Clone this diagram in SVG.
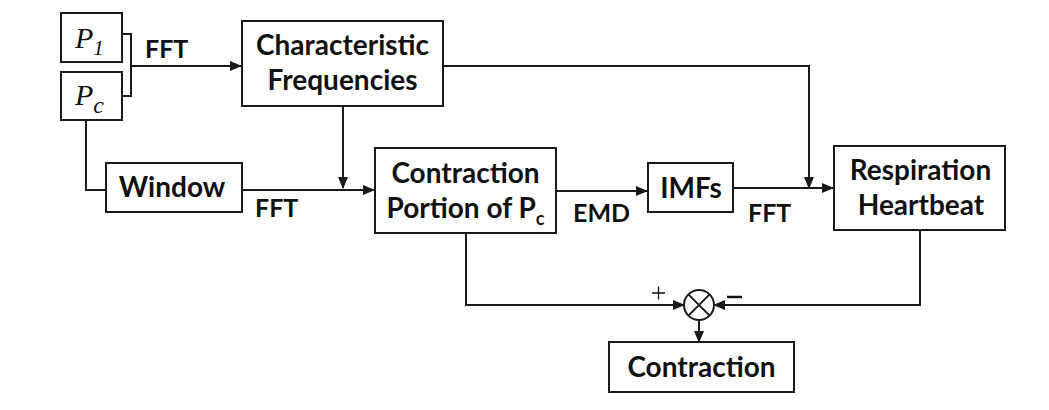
<svg xmlns="http://www.w3.org/2000/svg" width="1049" height="410" viewBox="0 0 1049 410">
<style>
.box{fill:#fff;stroke:#1a1a1a;stroke-width:2}
.t{font-family:Lato,"Open Sans",sans-serif;font-weight:bold;font-size:28px;fill:#111;text-anchor:middle}
.lbl{font-family:Lato,"Open Sans",sans-serif;font-weight:bold;font-size:25px;fill:#111}
.p{font-family:"Liberation Serif","DejaVu Serif",serif;font-style:italic;fill:#111}
.c{fill:none;stroke:#1a1a1a;stroke-width:2}
.sm{font-family:"DejaVu Sans","Liberation Sans",sans-serif;font-weight:200;font-size:24px;fill:#111}
</style>
<defs>
<marker id="ah" markerUnits="userSpaceOnUse" markerWidth="12" markerHeight="10" refX="11" refY="5" orient="auto">
<path d="M0,0 L12,5 L0,10 Z" fill="#1a1a1a"/>
</marker>
</defs>
<rect width="1049" height="410" fill="#fff"/>
<g id="connectors">
<path class="c" d="M122,34 H131 V96 H122"/>
<path class="c" d="M131,66 H241" marker-end="url(#ah)"/>
<path class="c" d="M443,66 H809 V188" marker-end="url(#ah)"/>
<path class="c" d="M343,106 V188" marker-end="url(#ah)"/>
<path class="c" d="M86,120 V190 H106"/>
<path class="c" d="M242,190 H374" marker-end="url(#ah)"/>
<path class="c" d="M556,191 H647" marker-end="url(#ah)"/>
<path class="c" d="M733,188 H833" marker-end="url(#ah)"/>
<path class="c" d="M466,233 V305 H684" marker-end="url(#ah)"/>
<path class="c" d="M920,230 V305 H714" marker-end="url(#ah)"/>
<path class="c" d="M699,320 V342" marker-end="url(#ah)"/>
<text class="lbl" x="145" y="58">FFT</text>
<text class="lbl" x="255" y="217">FFT</text>
<text class="lbl" x="573" y="222">EMD</text>
<text class="lbl" x="748" y="222">FFT</text>
<path d="M652,293 H665 M658.5,286.5 V299.5" stroke="#111" stroke-width="1.3"/>
<path d="M727,297 H742" stroke="#111" stroke-width="2.5"/>
</g>
<g id="p1">
<rect class="box" x="61" y="13" width="61" height="49"/>
<text class="p" x="75" y="48" font-size="30">P<tspan font-size="21" dy="7">1</tspan></text>
</g>
<g id="pc">
<rect class="box" x="61" y="72" width="61" height="48"/>
<text class="p" x="75" y="105" font-size="30">P<tspan font-size="24" dy="8">c</tspan></text>
</g>
<g id="characteristic">
<rect class="box" x="242" y="21" width="201" height="85"/>
<text class="t" x="342.5" y="55">Characteristic</text>
<text class="t" x="342.5" y="90">Frequencies</text>
</g>
<g id="window">
<rect class="box" x="106" y="163" width="136" height="49"/>
<text class="t" x="172" y="197">Window</text>
</g>
<g id="contraction-portion">
<rect class="box" x="375" y="148" width="181" height="85"/>
<text class="t" x="465.5" y="183">Contraction</text>
<text class="t" x="465.5" y="218">Portion of P<tspan font-size="18" dy="7">c</tspan></text>
</g>
<g id="imfs">
<rect class="box" x="648" y="163" width="85" height="49"/>
<text class="t" x="691" y="198">IMFs</text>
</g>
<g id="respiration">
<rect class="box" x="834" y="146" width="171" height="84"/>
<text class="t" x="920.5" y="180">Respiration</text>
<text class="t" x="921" y="215">Heartbeat</text>
</g>
<g id="sum">
<circle cx="699" cy="305" r="15" fill="#fff" stroke="#1a1a1a" stroke-width="2"/>
<path d="M688.4,294.4 L709.6,315.6 M709.6,294.4 L688.4,315.6" stroke="#1a1a1a" stroke-width="2"/>
</g>
<g id="contraction">
<rect class="box" x="609" y="342" width="185" height="50"/>
<text class="t" x="701.5" y="377">Contraction</text>
</g>
</svg>
